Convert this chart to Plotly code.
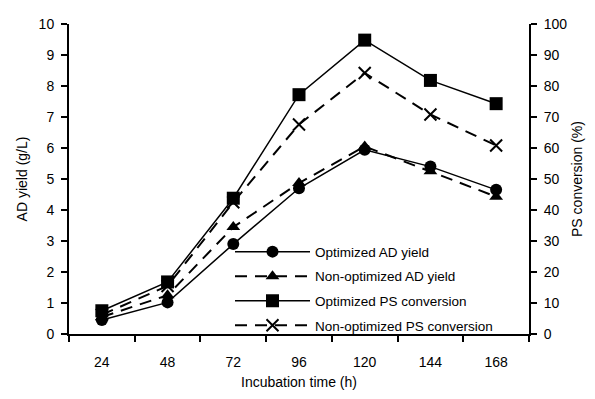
import plotly.graph_objects as go

times = ["24", "48", "72", "96", "120", "144", "168"]
opt_ad = [0.45, 1.02, 2.9, 4.7, 5.94, 5.4, 4.65]
nonopt_ad = [0.55, 1.25, 3.45, 4.87, 6.05, 5.25, 4.43]
opt_ps = [7.5, 16.8, 43.8, 77.2, 94.8, 81.8, 74.3]
nonopt_ps = [6.2, 15.5, 42.5, 67.6, 84.2, 70.8, 60.8]

fig = go.Figure()
fig.add_trace(go.Scatter(x=times, y=opt_ad, name="Optimized AD yield", mode="lines+markers",
                         legendgroup="a",
                         line=dict(color="black", width=1.5),
                         marker=dict(symbol="circle", size=12, color="black")))
fig.add_trace(go.Scatter(x=times, y=nonopt_ad, name="Non-optimized AD yield", mode="lines+markers",
                         legendgroup="b",
                         line=dict(color="black", width=2, dash="12px,8px"),
                         marker=dict(symbol="triangle-up", size=12, color="black")))
fig.add_trace(go.Scatter(x=times, y=opt_ps, name="Optimized PS conversion", mode="lines+markers",
                         legendgroup="c",
                         yaxis="y2", line=dict(color="black", width=1.5),
                         marker=dict(symbol="square", size=13, color="black")))
fig.add_trace(go.Scatter(x=times, y=nonopt_ps, name="Non-optimized PS conversion", mode="lines+markers",
                         legendgroup="d",
                         yaxis="y2", line=dict(color="black", width=2, dash="12px,8px"),
                         marker=dict(symbol="x-thin", size=12, color="black",
                                     line=dict(color="black", width=2))))

axis_font = dict(family="Liberation Sans, Arial, sans-serif", size=14, color="black")
fig.update_layout(
    width=595, height=399,
    margin=dict(l=69, r=66, t=24, b=65),
    paper_bgcolor="white", plot_bgcolor="white",
    font=axis_font,
    xaxis=dict(type="category", range=[-0.5, 6.5], showline=True, linecolor="black", linewidth=2,
               ticks="outside", ticklen=6, tickwidth=1.5, tickcolor="black", tickson="boundaries",
               showgrid=False, zeroline=False, ticklabelstandoff=14,
               title=dict(text="Incubation time (h)", font=axis_font, standoff=8),
               tickfont=axis_font),
    yaxis=dict(range=[0, 10], dtick=1, showline=True, linecolor="black", linewidth=2,
               ticks="outside", ticklen=6, tickwidth=1.5, tickcolor="black",
               showgrid=False, zeroline=False, ticklabelstandoff=4,
               title=dict(text="AD yield (g/L)", font=axis_font, standoff=8),
               tickfont=axis_font),
    yaxis2=dict(range=[0, 100], dtick=10, overlaying="y", side="right", showline=True,
                linecolor="black", linewidth=2, ticks="outside", ticklen=6, tickwidth=1.5,
                tickcolor="black", showgrid=False, zeroline=False, ticklabelstandoff=4,
                title=dict(text="PS conversion (%)", font=axis_font, standoff=6),
                tickfont=axis_font),
    legend=dict(x=0.35, y=0.315, xanchor="left", yanchor="top", bgcolor="rgba(0,0,0,0)",
                font=dict(family="Liberation Sans, Arial, sans-serif", size=13.5, color="black"),
                tracegroupgap=4, itemwidth=75),
    showlegend=True,
)
fig.write_html("out.html")
